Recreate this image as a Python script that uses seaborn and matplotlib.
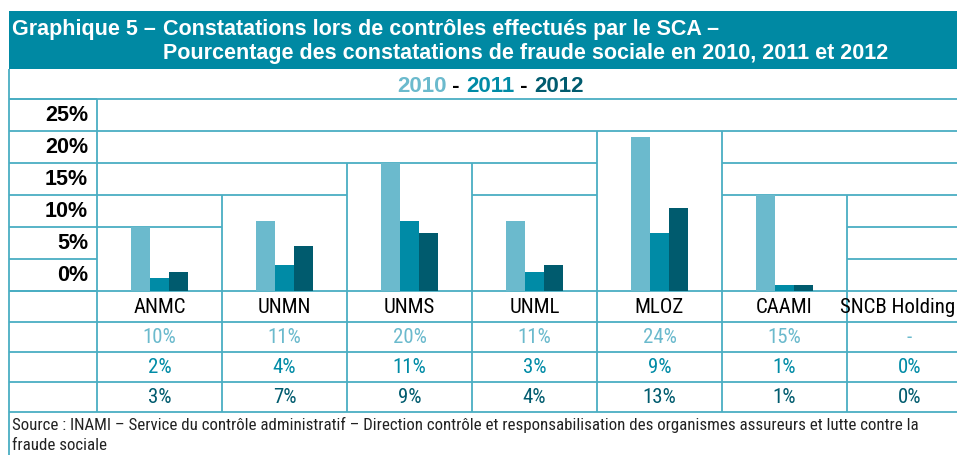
import numpy as np
import pandas as pd
import matplotlib
matplotlib.use("Agg")
import matplotlib.pyplot as plt
import seaborn as sns
from matplotlib.patches import Rectangle

# data
orgs = ["ANMC", "UNMN", "UNMS", "UNML", "MLOZ", "CAAMI", "SNCB Holding"]
years = ["2010", "2011", "2012"]
v2010 = [10, 11, 20, 11, 24, 15, np.nan]
v2011 = [2, 4, 11, 3, 9, 1, 0]
v2012 = [3, 7, 9, 4, 13, 1, 0]
y_ticks = [0, 5, 10, 15, 20, 25]

title_1a = "Graphique 5 \u2013"
title_1b = "Constatations lors de contr\u00f4les effectu\u00e9s par le SCA \u2013"
title_2 = "Pourcentage des constatations de fraude sociale en 2010, 2011 et 2012"
source = ("Source : INAMI \u2013 Service du contr\u00f4le administratif \u2013 Direction contr\u00f4le "
          "et responsabilisation des organismes assureurs et lutte contre la\nfraude sociale")

colors = {"2010": "#6bbacd", "2011": "#008ba6", "2012": "#005b6e"}
header_col = "#0089a3"
line_col = "#4aaec3"

sns.set_theme(style="white")
plt.rcParams["font.family"] = ["Liberation Sans", "DejaVu Sans"]
narrow = ["Roboto Condensed", "Archivo Narrow", "DejaVu Sans"]

W, H = 957, 456
X0, XL, CW = 9, 97, 125          # table left, label column right, column width
Y_BASE, PX = 292, 6.4            # baseline pixel row, pixels per percent
Y_TOP = 100
rows = [292, 323, 353, 383, 413]

def ypx(v):
    return Y_BASE - v * PX

fig = plt.figure(figsize=(W / 100, H / 100), dpi=100)
bg = fig.add_axes([0, 0, 1, 1])
bg.set_xlim(0, W)
bg.set_ylim(H, 0)
bg.axis("off")

# header band
bg.add_patch(Rectangle((X0, 12), W - X0, 58, color=header_col, lw=0))
bg.text(12, 30, title_1a, color="white", fontsize=15.5, fontweight="bold", va="center")
bg.text(163, 30, title_1b, color="white", fontsize=15.5, fontweight="bold", va="center")
bg.text(163, 54, title_2, color="white", fontsize=15.5, fontweight="bold", va="center")

# legend row: coloured years
t = bg.text(397, 87, years[0], color=colors[years[0]], fontsize=16, fontweight="bold", va="center")
for yr in years[1:]:
    t = bg.annotate(" - ", xy=(1, 0), xycoords=t, va="bottom", fontsize=16,
                    fontweight="bold", color="black")
    t = bg.annotate(yr, xy=(1, 0), xycoords=t, va="bottom", fontsize=16,
                    fontweight="bold", color=colors[yr])

lk = dict(color=line_col, lw=1.3, solid_capstyle="butt")
# left border
bg.plot([X0, X0], [70, H], **lk)
# label column
for lv in range(0, 35, 5):
    bg.plot([X0, XL], [ypx(lv)] * 2, **lk)
for lv in y_ticks:
    bg.text(88, ypx(lv + 2.5), f"{lv}%", ha="right", va="center",
            fontsize=15.5, fontweight="bold", color="black")
bg.plot([XL, XL], [Y_TOP, rows[-1]], **lk)
bg.plot([X0, W], [Y_TOP, Y_TOP], **lk)

# chart-area cell borders: open box above each group up to the next 5% step
series = [v2010, v2011, v2012]
box_top = []
for i in range(len(orgs)):
    m = np.nanmax([s[i] for s in series])
    box_top.append(max(5, int(np.ceil(m / 5.0)) * 5))
for i, bt in enumerate(box_top):
    x1, x2 = XL + i * CW, XL + (i + 1) * CW
    for lv in range(bt, 30, 5):
        bg.plot([x1, x2], [ypx(lv)] * 2, **lk)
    if i < len(orgs) - 1:
        top = max(bt, box_top[i + 1])
        bg.plot([x2, x2], [ypx(top), rows[-1]], **lk)

# table below
for r in rows:
    bg.plot([X0, W], [r, r], **lk)
row_vals = [None, v2010, v2011, v2012]
row_cols = ["black", colors["2010"], colors["2011"], colors["2012"]]
for j in range(4):
    yc = (rows[j] + rows[j + 1]) / 2
    for i, org in enumerate(orgs):
        xc, ha = XL + (i + 0.5) * CW, "center"
        if j == 0:
            s = org
            # last column runs past the image edge: keep the name inside
            if XL + (i + 1) * CW > W:
                xc, ha = W - 2, "right"
        else:
            v = row_vals[j][i]
            s = "-" if np.isnan(v) else f"{v:.0f}%"
        bg.text(xc, yc, s, ha=ha, va="center", fontsize=15,
                family=narrow, color=row_cols[j])

bg.text(12, 417, source, ha="left", va="top", fontsize=12.2, family=narrow,
        color="#222222", linespacing=1.45)

# bars
df = pd.DataFrame({"org": orgs * 3,
                   "year": sum([[y] * len(orgs) for y in years], []),
                   "value": v2010 + v2011 + v2012}).dropna()
ax = fig.add_axes([XL / W, 1 - Y_BASE / H, (W - XL) / W, (Y_BASE - Y_TOP) / H])
ax.patch.set_alpha(0)
sns.barplot(data=df, x="org", y="value", hue="year", order=orgs, hue_order=years,
            palette=colors, width=0.456, errorbar=None, linewidth=0, saturation=1,
            legend=False, ax=ax)
ax.set_xlim(-0.5, -0.5 + (W - XL) / CW)
ax.set_ylim(0, (Y_BASE - Y_TOP) / PX)
ax.axis("off")

fig.savefig("out.png", dpi=100)
